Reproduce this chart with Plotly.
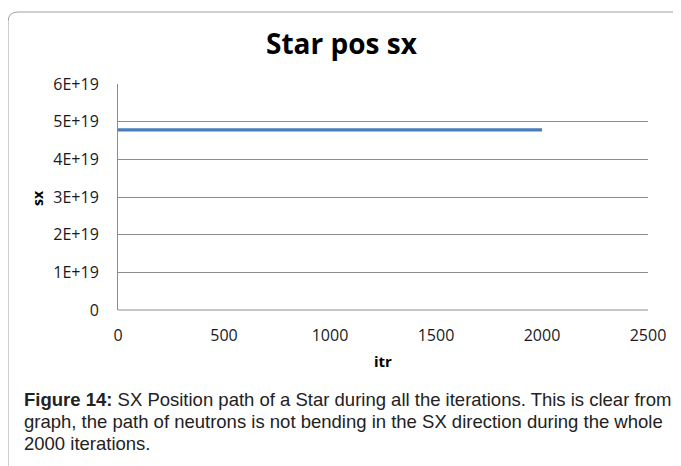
import plotly.graph_objects as go

itr = [0, 2000]
sx = [4.78e19, 4.78e19]
y_tickvals = [0, 1e19, 2e19, 3e19, 4e19, 5e19, 6e19]
y_ticktext = ["0", "1E+19", "2E+19", "3E+19", "4E+19", "5E+19", "6E+19"]
x_tickvals = [0, 500, 1000, 1500, 2000, 2500]
x_ticktext = ["0", "500", "1000", "1500", "2000", "2500"]

OFF = 8  # page body margin
W, H = 681 - OFF, 466 - OFF
# plot area in page pixel coordinates
L, R, T, B = 118, 648, 84, 310

def px(x):
    return (x - L) / (R - L)

def py(y):
    return (B - y) / (B - T)

fig = go.Figure()
fig.add_trace(go.Scatter(x=itr, y=sx, mode="lines",
                         line=dict(color="#4A7EBB", width=3.2),
                         showlegend=False, hoverinfo="skip"))

chart_font = "'Open Sans', sans-serif"
fig.update_layout(
    width=W, height=H,
    margin=dict(l=L - OFF, r=681 - R, t=T - OFF, b=466 - B),
    paper_bgcolor="white", plot_bgcolor="white",
    font=dict(family=chart_font, size=16, color="#1a1a1a"),
    xaxis=dict(range=[0, 2500], tickvals=x_tickvals, ticktext=x_ticktext,
               showgrid=False, zeroline=False, showline=False,
               ticks="", tickfont=dict(size=16), ticklabelstandoff=14),
    yaxis=dict(range=[0, 6e19], tickvals=y_tickvals, ticktext=y_ticktext,
               showgrid=True, gridcolor="#8c8c8c", gridwidth=1,
               zeroline=False, showline=True, linecolor="#8c8c8c", linewidth=1,
               ticks="", tickfont=dict(size=16), ticklabelstandoff=15),
)

# bottom axis line at 0
fig.add_shape(type="line", xref="paper", yref="paper", x0=0, x1=1, y0=0, y1=0,
              line=dict(color="#8c8c8c", width=1))

# title
fig.add_annotation(text="<b>Star pos sx</b>", xref="paper", yref="paper",
                   x=px(342), y=py(43), showarrow=False,
                   font=dict(size=28, family=chart_font, color="#000000"),
                   xanchor="center", yanchor="middle")

# axis titles
fig.add_annotation(text="<b>sx</b>", xref="paper", yref="paper",
                   x=px(37), y=py(198), showarrow=False, textangle=-90,
                   font=dict(size=14, family=chart_font, color="#000000"),
                   xanchor="center", yanchor="middle")
fig.add_annotation(text="<b>itr</b>", xref="paper", yref="paper",
                   x=px(383), y=py(361), showarrow=False,
                   font=dict(size=15, family=chart_font, color="#000000"),
                   xanchor="center", yanchor="middle")

# rounded frame
x0, y0 = px(8), py(12)
r_x = 10 / (R - L)
r_y = 10 / (B - T)
xe, yb = px(700), py(480)
path = (f"M {x0},{yb} L {x0},{y0 - r_y} Q {x0},{y0} {x0 + r_x},{y0} L {xe},{y0}")
fig.add_shape(type="path", path=path, xref="paper", yref="paper",
              line=dict(color="#A0A0A0", width=1))

# caption
cap_font = dict(family="'Liberation Sans', Arial, sans-serif", size=18.5, color="#222222")
caption_lines = [
    "<b>Figure 14:</b> SX Position path of a Star during all the iterations. This is clear from",
    "graph, the path of neutrons is not bending in the SX direction during the whole",
    "2000 iterations.",
]
for i, line in enumerate(caption_lines):
    fig.add_annotation(text=line, xref="paper", yref="paper",
                       x=px(22), y=py(399 + 22 * i), showarrow=False,
                       xanchor="left", yanchor="middle", font=cap_font)

fig.write_html("out.html")
